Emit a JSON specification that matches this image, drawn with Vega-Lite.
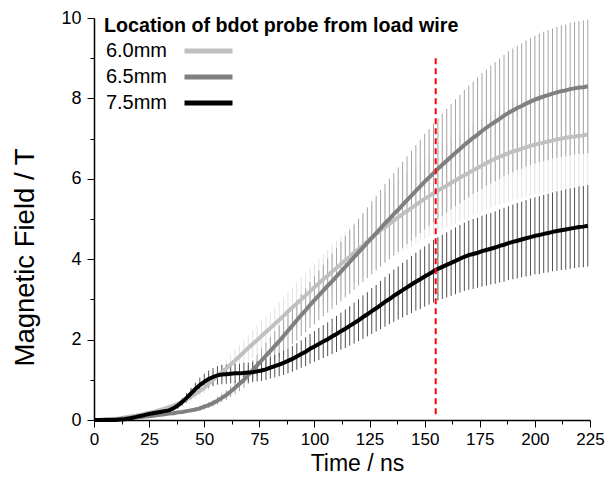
{
"$schema":"https://vega.github.io/schema/vega-lite/v6.json",
"width":496,"height":402,"autosize":{"type":"none"},
"padding":{"left":94,"top":18,"right":18,"bottom":57},
"title":{"text":"Location of bdot probe from load wire","anchor":"start","frame":"group","orient":"top","offset":-29,"dx":10,"dy":14,"baseline":"alphabetic","fontSize":19.7,"fontWeight":"bold","font":"Liberation Sans","color":"black"},
"datasets":{
"m":[
{"s":"6.0mm","t":0,"v":0,"e":0},{"s":"6.0mm","t":2,"v":0,"e":0},{"s":"6.0mm","t":4,"v":0.01,"e":0},{"s":"6.0mm","t":6,"v":0.01,"e":0},{"s":"6.0mm","t":8,"v":0.02,"e":0},{"s":"6.0mm","t":10,"v":0.03,"e":0.01},{"s":"6.0mm","t":12,"v":0.04,"e":0.01},{"s":"6.0mm","t":14,"v":0.06,"e":0.01},{"s":"6.0mm","t":16,"v":0.08,"e":0.01},{"s":"6.0mm","t":18,"v":0.1,"e":0.02},{"s":"6.0mm","t":20,"v":0.12,"e":0.02},{"s":"6.0mm","t":22,"v":0.14,"e":0.03},{"s":"6.0mm","t":24,"v":0.17,"e":0.03},{"s":"6.0mm","t":26,"v":0.19,"e":0.03},{"s":"6.0mm","t":28,"v":0.22,"e":0.04},{"s":"6.0mm","t":30,"v":0.25,"e":0.05},{"s":"6.0mm","t":32,"v":0.28,"e":0.05},{"s":"6.0mm","t":34,"v":0.32,"e":0.06},{"s":"6.0mm","t":36,"v":0.36,"e":0.06},{"s":"6.0mm","t":38,"v":0.4,"e":0.07},{"s":"6.0mm","t":40,"v":0.45,"e":0.08},{"s":"6.0mm","t":42,"v":0.51,"e":0.09},{"s":"6.0mm","t":44,"v":0.58,"e":0.1},{"s":"6.0mm","t":46,"v":0.65,"e":0.12},{"s":"6.0mm","t":48,"v":0.72,"e":0.13},{"s":"6.0mm","t":50,"v":0.8,"e":0.14},{"s":"6.0mm","t":52,"v":0.9,"e":0.16},{"s":"6.0mm","t":54,"v":1.0,"e":0.18},{"s":"6.0mm","t":56,"v":1.1,"e":0.2},{"s":"6.0mm","t":58,"v":1.19,"e":0.21},{"s":"6.0mm","t":60,"v":1.28,"e":0.23},{"s":"6.0mm","t":62,"v":1.38,"e":0.25},{"s":"6.0mm","t":64,"v":1.48,"e":0.27},{"s":"6.0mm","t":66,"v":1.58,"e":0.28},{"s":"6.0mm","t":68,"v":1.69,"e":0.3},{"s":"6.0mm","t":70,"v":1.79,"e":0.32},{"s":"6.0mm","t":72,"v":1.89,"e":0.34},{"s":"6.0mm","t":74,"v":1.99,"e":0.36},{"s":"6.0mm","t":76,"v":2.09,"e":0.38},{"s":"6.0mm","t":78,"v":2.19,"e":0.39},{"s":"6.0mm","t":80,"v":2.29,"e":0.41},{"s":"6.0mm","t":82,"v":2.39,"e":0.43},{"s":"6.0mm","t":84,"v":2.49,"e":0.45},{"s":"6.0mm","t":86,"v":2.59,"e":0.47},{"s":"6.0mm","t":88,"v":2.7,"e":0.49},{"s":"6.0mm","t":90,"v":2.8,"e":0.5},{"s":"6.0mm","t":92,"v":2.9,"e":0.52},{"s":"6.0mm","t":94,"v":3.0,"e":0.54},{"s":"6.0mm","t":96,"v":3.1,"e":0.56},{"s":"6.0mm","t":98,"v":3.2,"e":0.58},{"s":"6.0mm","t":100,"v":3.3,"e":0.59},{"s":"6.0mm","t":102,"v":3.4,"e":0.61},{"s":"6.0mm","t":104,"v":3.5,"e":0.63},{"s":"6.0mm","t":106,"v":3.59,"e":0.65},{"s":"6.0mm","t":108,"v":3.69,"e":0.66},{"s":"6.0mm","t":110,"v":3.78,"e":0.68},{"s":"6.0mm","t":112,"v":3.88,"e":0.7},{"s":"6.0mm","t":114,"v":3.97,"e":0.71},{"s":"6.0mm","t":116,"v":4.06,"e":0.73},{"s":"6.0mm","t":118,"v":4.16,"e":0.75},{"s":"6.0mm","t":120,"v":4.25,"e":0.77},{"s":"6.0mm","t":122,"v":4.34,"e":0.78},{"s":"6.0mm","t":124,"v":4.44,"e":0.8},{"s":"6.0mm","t":126,"v":4.53,"e":0.82},{"s":"6.0mm","t":128,"v":4.63,"e":0.83},{"s":"6.0mm","t":130,"v":4.72,"e":0.85},{"s":"6.0mm","t":132,"v":4.8,"e":0.86},{"s":"6.0mm","t":134,"v":4.88,"e":0.88},{"s":"6.0mm","t":136,"v":4.96,"e":0.89},{"s":"6.0mm","t":138,"v":5.04,"e":0.91},{"s":"6.0mm","t":140,"v":5.12,"e":0.92},{"s":"6.0mm","t":142,"v":5.2,"e":0.94},{"s":"6.0mm","t":144,"v":5.27,"e":0.95},{"s":"6.0mm","t":146,"v":5.35,"e":0.96},{"s":"6.0mm","t":148,"v":5.43,"e":0.98},{"s":"6.0mm","t":150,"v":5.5,"e":0.99},{"s":"6.0mm","t":152,"v":5.57,"e":1.0},{"s":"6.0mm","t":154,"v":5.64,"e":1.02},{"s":"6.0mm","t":156,"v":5.71,"e":1.03},{"s":"6.0mm","t":158,"v":5.77,"e":1.04},{"s":"6.0mm","t":160,"v":5.83,"e":1.05},{"s":"6.0mm","t":162,"v":5.9,"e":1.06},{"s":"6.0mm","t":164,"v":5.96,"e":1.07},{"s":"6.0mm","t":166,"v":6.03,"e":1.09},{"s":"6.0mm","t":168,"v":6.09,"e":1.1},{"s":"6.0mm","t":170,"v":6.15,"e":1.11},{"s":"6.0mm","t":172,"v":6.21,"e":1.12},{"s":"6.0mm","t":174,"v":6.27,"e":1.13},{"s":"6.0mm","t":176,"v":6.33,"e":1.14},{"s":"6.0mm","t":178,"v":6.39,"e":1.15},{"s":"6.0mm","t":180,"v":6.45,"e":1.16},{"s":"6.0mm","t":182,"v":6.5,"e":1.17},{"s":"6.0mm","t":184,"v":6.55,"e":1.18},{"s":"6.0mm","t":186,"v":6.59,"e":1.19},{"s":"6.0mm","t":188,"v":6.64,"e":1.2},{"s":"6.0mm","t":190,"v":6.68,"e":1.2},{"s":"6.0mm","t":192,"v":6.71,"e":1.21},{"s":"6.0mm","t":194,"v":6.75,"e":1.22},{"s":"6.0mm","t":196,"v":6.78,"e":1.22},{"s":"6.0mm","t":198,"v":6.82,"e":1.23},{"s":"6.0mm","t":200,"v":6.85,"e":1.23},{"s":"6.0mm","t":202,"v":6.88,"e":1.24},{"s":"6.0mm","t":204,"v":6.9,"e":1.24},{"s":"6.0mm","t":206,"v":6.93,"e":1.25},{"s":"6.0mm","t":208,"v":6.95,"e":1.25},{"s":"6.0mm","t":210,"v":6.98,"e":1.26},{"s":"6.0mm","t":212,"v":7.0,"e":1.26},{"s":"6.0mm","t":214,"v":7.02,"e":1.26},{"s":"6.0mm","t":216,"v":7.04,"e":1.27},{"s":"6.0mm","t":218,"v":7.05,"e":1.27},{"s":"6.0mm","t":220,"v":7.07,"e":1.27},{"s":"6.0mm","t":222,"v":7.08,"e":1.27},{"s":"6.0mm","t":224,"v":7.1,"e":1.28},
{"s":"6.5mm","t":0,"v":0,"e":0},{"s":"6.5mm","t":2,"v":0,"e":0},{"s":"6.5mm","t":4,"v":0,"e":0},{"s":"6.5mm","t":6,"v":0.01,"e":0},{"s":"6.5mm","t":8,"v":0.01,"e":0},{"s":"6.5mm","t":10,"v":0.02,"e":0},{"s":"6.5mm","t":12,"v":0.03,"e":0.01},{"s":"6.5mm","t":14,"v":0.04,"e":0.01},{"s":"6.5mm","t":16,"v":0.05,"e":0.01},{"s":"6.5mm","t":18,"v":0.06,"e":0.01},{"s":"6.5mm","t":20,"v":0.07,"e":0.01},{"s":"6.5mm","t":22,"v":0.08,"e":0.02},{"s":"6.5mm","t":24,"v":0.09,"e":0.02},{"s":"6.5mm","t":26,"v":0.1,"e":0.02},{"s":"6.5mm","t":28,"v":0.12,"e":0.02},{"s":"6.5mm","t":30,"v":0.13,"e":0.03},{"s":"6.5mm","t":32,"v":0.14,"e":0.03},{"s":"6.5mm","t":34,"v":0.16,"e":0.03},{"s":"6.5mm","t":36,"v":0.17,"e":0.03},{"s":"6.5mm","t":38,"v":0.19,"e":0.04},{"s":"6.5mm","t":40,"v":0.2,"e":0.04},{"s":"6.5mm","t":42,"v":0.22,"e":0.04},{"s":"6.5mm","t":44,"v":0.24,"e":0.05},{"s":"6.5mm","t":46,"v":0.26,"e":0.05},{"s":"6.5mm","t":48,"v":0.29,"e":0.06},{"s":"6.5mm","t":50,"v":0.33,"e":0.07},{"s":"6.5mm","t":52,"v":0.37,"e":0.07},{"s":"6.5mm","t":54,"v":0.42,"e":0.08},{"s":"6.5mm","t":56,"v":0.48,"e":0.1},{"s":"6.5mm","t":58,"v":0.55,"e":0.11},{"s":"6.5mm","t":60,"v":0.62,"e":0.12},{"s":"6.5mm","t":62,"v":0.71,"e":0.14},{"s":"6.5mm","t":64,"v":0.8,"e":0.16},{"s":"6.5mm","t":66,"v":0.9,"e":0.18},{"s":"6.5mm","t":68,"v":1.0,"e":0.2},{"s":"6.5mm","t":70,"v":1.12,"e":0.22},{"s":"6.5mm","t":72,"v":1.24,"e":0.25},{"s":"6.5mm","t":74,"v":1.36,"e":0.27},{"s":"6.5mm","t":76,"v":1.48,"e":0.3},{"s":"6.5mm","t":78,"v":1.6,"e":0.32},{"s":"6.5mm","t":80,"v":1.72,"e":0.34},{"s":"6.5mm","t":82,"v":1.84,"e":0.37},{"s":"6.5mm","t":84,"v":1.96,"e":0.39},{"s":"6.5mm","t":86,"v":2.09,"e":0.42},{"s":"6.5mm","t":88,"v":2.22,"e":0.44},{"s":"6.5mm","t":90,"v":2.35,"e":0.47},{"s":"6.5mm","t":92,"v":2.48,"e":0.5},{"s":"6.5mm","t":94,"v":2.61,"e":0.52},{"s":"6.5mm","t":96,"v":2.73,"e":0.55},{"s":"6.5mm","t":98,"v":2.86,"e":0.57},{"s":"6.5mm","t":100,"v":2.98,"e":0.6},{"s":"6.5mm","t":102,"v":3.1,"e":0.62},{"s":"6.5mm","t":104,"v":3.22,"e":0.64},{"s":"6.5mm","t":106,"v":3.34,"e":0.67},{"s":"6.5mm","t":108,"v":3.45,"e":0.69},{"s":"6.5mm","t":110,"v":3.57,"e":0.71},{"s":"6.5mm","t":112,"v":3.69,"e":0.74},{"s":"6.5mm","t":114,"v":3.81,"e":0.76},{"s":"6.5mm","t":116,"v":3.93,"e":0.79},{"s":"6.5mm","t":118,"v":4.05,"e":0.81},{"s":"6.5mm","t":120,"v":4.17,"e":0.83},{"s":"6.5mm","t":122,"v":4.29,"e":0.86},{"s":"6.5mm","t":124,"v":4.41,"e":0.88},{"s":"6.5mm","t":126,"v":4.53,"e":0.91},{"s":"6.5mm","t":128,"v":4.65,"e":0.93},{"s":"6.5mm","t":130,"v":4.77,"e":0.95},{"s":"6.5mm","t":132,"v":4.89,"e":0.98},{"s":"6.5mm","t":134,"v":5.0,"e":1.0},{"s":"6.5mm","t":136,"v":5.12,"e":1.02},{"s":"6.5mm","t":138,"v":5.23,"e":1.05},{"s":"6.5mm","t":140,"v":5.35,"e":1.07},{"s":"6.5mm","t":142,"v":5.47,"e":1.09},{"s":"6.5mm","t":144,"v":5.58,"e":1.12},{"s":"6.5mm","t":146,"v":5.7,"e":1.14},{"s":"6.5mm","t":148,"v":5.81,"e":1.16},{"s":"6.5mm","t":150,"v":5.93,"e":1.19},{"s":"6.5mm","t":152,"v":6.03,"e":1.21},{"s":"6.5mm","t":154,"v":6.14,"e":1.23},{"s":"6.5mm","t":156,"v":6.25,"e":1.25},{"s":"6.5mm","t":158,"v":6.35,"e":1.27},{"s":"6.5mm","t":160,"v":6.45,"e":1.29},{"s":"6.5mm","t":162,"v":6.55,"e":1.31},{"s":"6.5mm","t":164,"v":6.65,"e":1.33},{"s":"6.5mm","t":166,"v":6.74,"e":1.35},{"s":"6.5mm","t":168,"v":6.84,"e":1.37},{"s":"6.5mm","t":170,"v":6.93,"e":1.39},{"s":"6.5mm","t":172,"v":7.02,"e":1.4},{"s":"6.5mm","t":174,"v":7.1,"e":1.42},{"s":"6.5mm","t":176,"v":7.19,"e":1.44},{"s":"6.5mm","t":178,"v":7.27,"e":1.45},{"s":"6.5mm","t":180,"v":7.35,"e":1.47},{"s":"6.5mm","t":182,"v":7.42,"e":1.48},{"s":"6.5mm","t":184,"v":7.49,"e":1.5},{"s":"6.5mm","t":186,"v":7.57,"e":1.51},{"s":"6.5mm","t":188,"v":7.64,"e":1.53},{"s":"6.5mm","t":190,"v":7.7,"e":1.54},{"s":"6.5mm","t":192,"v":7.76,"e":1.55},{"s":"6.5mm","t":194,"v":7.81,"e":1.56},{"s":"6.5mm","t":196,"v":7.87,"e":1.57},{"s":"6.5mm","t":198,"v":7.92,"e":1.58},{"s":"6.5mm","t":200,"v":7.97,"e":1.59},{"s":"6.5mm","t":202,"v":8.01,"e":1.6},{"s":"6.5mm","t":204,"v":8.05,"e":1.61},{"s":"6.5mm","t":206,"v":8.08,"e":1.62},{"s":"6.5mm","t":208,"v":8.12,"e":1.62},{"s":"6.5mm","t":210,"v":8.15,"e":1.63},{"s":"6.5mm","t":212,"v":8.18,"e":1.64},{"s":"6.5mm","t":214,"v":8.2,"e":1.64},{"s":"6.5mm","t":216,"v":8.23,"e":1.65},{"s":"6.5mm","t":218,"v":8.25,"e":1.65},{"s":"6.5mm","t":220,"v":8.27,"e":1.65},{"s":"6.5mm","t":222,"v":8.28,"e":1.66},{"s":"6.5mm","t":224,"v":8.3,"e":1.66},
{"s":"7.5mm","t":0,"v":0,"e":0},{"s":"7.5mm","t":2,"v":0,"e":0},{"s":"7.5mm","t":4,"v":0,"e":0},{"s":"7.5mm","t":6,"v":0,"e":0},{"s":"7.5mm","t":8,"v":0,"e":0},{"s":"7.5mm","t":10,"v":0,"e":0},{"s":"7.5mm","t":12,"v":0.01,"e":0},{"s":"7.5mm","t":14,"v":0.02,"e":0},{"s":"7.5mm","t":16,"v":0.04,"e":0.01},{"s":"7.5mm","t":18,"v":0.06,"e":0.01},{"s":"7.5mm","t":20,"v":0.09,"e":0.02},{"s":"7.5mm","t":22,"v":0.11,"e":0.02},{"s":"7.5mm","t":24,"v":0.14,"e":0.03},{"s":"7.5mm","t":26,"v":0.16,"e":0.03},{"s":"7.5mm","t":28,"v":0.18,"e":0.04},{"s":"7.5mm","t":30,"v":0.2,"e":0.04},{"s":"7.5mm","t":32,"v":0.22,"e":0.05},{"s":"7.5mm","t":34,"v":0.24,"e":0.05},{"s":"7.5mm","t":36,"v":0.29,"e":0.06},{"s":"7.5mm","t":38,"v":0.36,"e":0.08},{"s":"7.5mm","t":40,"v":0.45,"e":0.09},{"s":"7.5mm","t":42,"v":0.55,"e":0.12},{"s":"7.5mm","t":44,"v":0.66,"e":0.14},{"s":"7.5mm","t":46,"v":0.77,"e":0.16},{"s":"7.5mm","t":48,"v":0.87,"e":0.18},{"s":"7.5mm","t":50,"v":0.95,"e":0.2},{"s":"7.5mm","t":52,"v":1.02,"e":0.21},{"s":"7.5mm","t":54,"v":1.07,"e":0.22},{"s":"7.5mm","t":56,"v":1.11,"e":0.23},{"s":"7.5mm","t":58,"v":1.13,"e":0.24},{"s":"7.5mm","t":60,"v":1.14,"e":0.24},{"s":"7.5mm","t":62,"v":1.15,"e":0.24},{"s":"7.5mm","t":64,"v":1.16,"e":0.24},{"s":"7.5mm","t":66,"v":1.16,"e":0.24},{"s":"7.5mm","t":68,"v":1.17,"e":0.25},{"s":"7.5mm","t":70,"v":1.18,"e":0.25},{"s":"7.5mm","t":72,"v":1.19,"e":0.25},{"s":"7.5mm","t":74,"v":1.21,"e":0.25},{"s":"7.5mm","t":76,"v":1.23,"e":0.26},{"s":"7.5mm","t":78,"v":1.26,"e":0.26},{"s":"7.5mm","t":80,"v":1.3,"e":0.27},{"s":"7.5mm","t":82,"v":1.34,"e":0.28},{"s":"7.5mm","t":84,"v":1.38,"e":0.29},{"s":"7.5mm","t":86,"v":1.42,"e":0.3},{"s":"7.5mm","t":88,"v":1.47,"e":0.31},{"s":"7.5mm","t":90,"v":1.52,"e":0.32},{"s":"7.5mm","t":92,"v":1.58,"e":0.33},{"s":"7.5mm","t":94,"v":1.64,"e":0.34},{"s":"7.5mm","t":96,"v":1.7,"e":0.36},{"s":"7.5mm","t":98,"v":1.77,"e":0.37},{"s":"7.5mm","t":100,"v":1.83,"e":0.38},{"s":"7.5mm","t":102,"v":1.89,"e":0.4},{"s":"7.5mm","t":104,"v":1.95,"e":0.41},{"s":"7.5mm","t":106,"v":2.01,"e":0.42},{"s":"7.5mm","t":108,"v":2.08,"e":0.44},{"s":"7.5mm","t":110,"v":2.14,"e":0.45},{"s":"7.5mm","t":112,"v":2.21,"e":0.46},{"s":"7.5mm","t":114,"v":2.27,"e":0.48},{"s":"7.5mm","t":116,"v":2.34,"e":0.49},{"s":"7.5mm","t":118,"v":2.41,"e":0.51},{"s":"7.5mm","t":120,"v":2.48,"e":0.52},{"s":"7.5mm","t":122,"v":2.56,"e":0.54},{"s":"7.5mm","t":124,"v":2.63,"e":0.55},{"s":"7.5mm","t":126,"v":2.71,"e":0.57},{"s":"7.5mm","t":128,"v":2.78,"e":0.58},{"s":"7.5mm","t":130,"v":2.86,"e":0.6},{"s":"7.5mm","t":132,"v":2.94,"e":0.62},{"s":"7.5mm","t":134,"v":3.01,"e":0.63},{"s":"7.5mm","t":136,"v":3.09,"e":0.65},{"s":"7.5mm","t":138,"v":3.16,"e":0.66},{"s":"7.5mm","t":140,"v":3.23,"e":0.68},{"s":"7.5mm","t":142,"v":3.3,"e":0.69},{"s":"7.5mm","t":144,"v":3.37,"e":0.71},{"s":"7.5mm","t":146,"v":3.44,"e":0.72},{"s":"7.5mm","t":148,"v":3.5,"e":0.74},{"s":"7.5mm","t":150,"v":3.57,"e":0.75},{"s":"7.5mm","t":152,"v":3.63,"e":0.76},{"s":"7.5mm","t":154,"v":3.7,"e":0.78},{"s":"7.5mm","t":156,"v":3.76,"e":0.79},{"s":"7.5mm","t":158,"v":3.81,"e":0.8},{"s":"7.5mm","t":160,"v":3.86,"e":0.81},{"s":"7.5mm","t":162,"v":3.91,"e":0.82},{"s":"7.5mm","t":164,"v":3.96,"e":0.83},{"s":"7.5mm","t":166,"v":4.01,"e":0.84},{"s":"7.5mm","t":168,"v":4.06,"e":0.85},{"s":"7.5mm","t":170,"v":4.1,"e":0.86},{"s":"7.5mm","t":172,"v":4.13,"e":0.87},{"s":"7.5mm","t":174,"v":4.16,"e":0.87},{"s":"7.5mm","t":176,"v":4.2,"e":0.88},{"s":"7.5mm","t":178,"v":4.23,"e":0.89},{"s":"7.5mm","t":180,"v":4.26,"e":0.89},{"s":"7.5mm","t":182,"v":4.29,"e":0.9},{"s":"7.5mm","t":184,"v":4.33,"e":0.91},{"s":"7.5mm","t":186,"v":4.36,"e":0.92},{"s":"7.5mm","t":188,"v":4.4,"e":0.92},{"s":"7.5mm","t":190,"v":4.43,"e":0.93},{"s":"7.5mm","t":192,"v":4.46,"e":0.94},{"s":"7.5mm","t":194,"v":4.49,"e":0.94},{"s":"7.5mm","t":196,"v":4.52,"e":0.95},{"s":"7.5mm","t":198,"v":4.55,"e":0.96},{"s":"7.5mm","t":200,"v":4.58,"e":0.96},{"s":"7.5mm","t":202,"v":4.6,"e":0.97},{"s":"7.5mm","t":204,"v":4.63,"e":0.97},{"s":"7.5mm","t":206,"v":4.65,"e":0.98},{"s":"7.5mm","t":208,"v":4.68,"e":0.98},{"s":"7.5mm","t":210,"v":4.7,"e":0.99},{"s":"7.5mm","t":212,"v":4.72,"e":0.99},{"s":"7.5mm","t":214,"v":4.74,"e":1.0},{"s":"7.5mm","t":216,"v":4.76,"e":1.0},{"s":"7.5mm","t":218,"v":4.78,"e":1.0},{"s":"7.5mm","t":220,"v":4.8,"e":1.01},{"s":"7.5mm","t":222,"v":4.81,"e":1.01},{"s":"7.5mm","t":224,"v":4.83,"e":1.01}
],
"ref":[{"t":155,"y1":9.0,"y2":0.12}]
},
"layer":[
{"data":{"name":"m"},
"mark":{"type":"errorbar","ticks":false,"thickness":1},
"encoding":{
"x":{"field":"t","type":"quantitative","scale":{"domain":[0,225],"nice":false,"zero":false},
"axis":{"orient":"bottom","values":[0,25,50,75,100,125,150,175,200,225],"title":"Time / ns","tickSize":7,"labelFontSize":17,"labelPadding":4,"titleFontSize":23,"titleFontWeight":"normal","titleX":263,"titleY":50,"titleBaseline":"alphabetic","titleAlign":"center","domainWidth":1.5,"labelFlush":false}},
"y":{"field":"v","type":"quantitative","scale":{"domain":[0,10],"nice":false},
"axis":{"orient":"left","values":[0,2,4,6,8,10],"title":"Magnetic Field / T","tickSize":7,"labelFontSize":18,"labelPadding":6,"titleFontSize":27.5,"titleFontWeight":"normal","titleAngle":270,"titleX":-61,"titleY":239,"titleBaseline":"alphabetic","titleAlign":"center","domainWidth":1.5}},
"yError":{"field":"e"},
"color":{"field":"s","type":"nominal","scale":{"domain":["6.0mm","6.5mm","7.5mm"],"range":["#e2e2e2","#a4a4a4","#505050"]},"legend":null}
}},
{"data":{"name":"m"},
"mark":{"type":"line","strokeWidth":4},
"encoding":{
"x":{"field":"t","type":"quantitative","scale":{"domain":[0,225],"nice":false,"zero":false},"axis":null},
"y":{"field":"v","type":"quantitative","scale":{"domain":[0,10],"nice":false},"axis":null},
"color":{"field":"s","type":"nominal","scale":{"domain":["6.0mm","6.5mm","7.5mm"],"range":["#c0c0c0","#808080","#000000"]},
"legend":{"title":null,"orient":"none","legendX":100,"legendY":18.5,"symbolType":"M-2,0H2","symbolSize":576,"symbolStrokeWidth":5,"labelFontSize":20,"labelAlign":"right","labelOffset":-56,"rowPadding":1,"padding":0,"labelColor":"black","labelLimit":0}}
}},
{"data":{"name":"ref"},
"mark":{"type":"rule","color":"#ff0000","strokeDash":[6,4],"strokeWidth":2},
"encoding":{
"x":{"field":"t","type":"quantitative","scale":{"domain":[0,225],"nice":false,"zero":false},
"axis":{"orient":"bottom","values":[12.5,37.5,62.5,87.5,112.5,137.5,162.5,187.5,212.5],"labels":false,"domain":false,"tickSize":4,"title":null}},
"y":{"field":"y1","type":"quantitative","scale":{"domain":[0,10],"nice":false},
"axis":{"orient":"left","values":[1,3,5,7,9],"labels":false,"domain":false,"tickSize":4,"title":null}},
"y2":{"field":"y2"}
}}
],
"resolve":{"scale":{"color":"independent"},"axis":{"x":"independent","y":"independent"}},
"config":{"view":{"stroke":null},"font":"Liberation Sans",
"axis":{"grid":false,"domainColor":"black","tickColor":"black","labelColor":"black","titleColor":"black","labelFont":"Liberation Sans","titleFont":"Liberation Sans","tickWidth":1}}
}
